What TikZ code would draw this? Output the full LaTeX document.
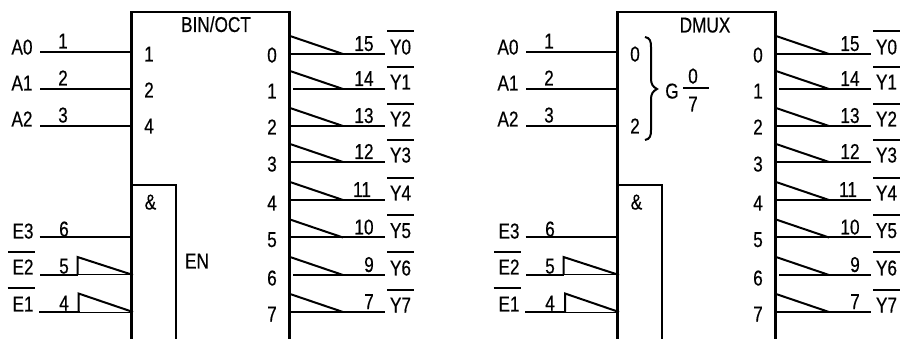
\documentclass[tikz,border=0pt]{standalone}
\usepackage{fontspec}
\setmainfont[FakeStretch=0.8,FakeBold=0.4]{Liberation Sans}
\tikzset{
  x=1pt,y=-1pt,
  wire/.style={line width=2pt,line cap=butt},
  thinwire/.style={line width=1pt},
  boxline/.style={line width=2.2pt},
  lab/.style={inner sep=0pt,font=\fontsize{21.5}{23}\selectfont,text height=15pt,text depth=0pt,anchor=center},
}
% #1 prefix, #2 x offset, #3 tri1 x, #4 tri2 x
\newcommand{\chipdraw}[4]{
  \begin{scope}[shift={(#2,0)}]
  % outline
  \coordinate (#1bl) at (131.5,339);
  \coordinate (#1tl) at (131.5,12);
  \coordinate (#1tr) at (289.5,12);
  \coordinate (#1br) at (289.5,339);
  \coordinate (#1al) at (131.5,185);
  \coordinate (#1ar) at (176,185);
  \coordinate (#1ab) at (176,339);
  \draw[boxline] (#1bl) -- (#1tl) -- (#1tr) -- (#1br);
  \draw[boxline] (#1al) -- (#1ar) -- (#1ab);
  % address inputs
  \foreach \n/\yy in {a/52,b/89,c/126}{
    \coordinate (#1i\n) at (40,\yy);
    \coordinate (#1j\n) at (131.5,\yy);
    \draw[wire] (#1i\n) -- (#1j\n);
  }
  % enables
  \coordinate (#1ie) at (39.5,237); \coordinate (#1je) at (131.5,237);
  \draw[wire] (#1ie) -- (#1je);
  \coordinate (#1if) at (40,275); \coordinate (#1tf) at (#3,275);
  \coordinate (#1uf) at (#3,257); \coordinate (#1jf) at (133,275);
  \draw[wire] (#1if) -- (#1tf);
  \draw[thinwire] (#1tf) -- (#1jf);
  \draw[wire,line join=miter] (#1tf) -- (#1uf) -- (#1jf);
  \coordinate (#1ig) at (39,312); \coordinate (#1tg) at (#4,312);
  \coordinate (#1ug) at (#4,293.5); \coordinate (#1jg) at (133,312);
  \draw[wire] (#1ig) -- ([xshift=1pt]#1tg);
  \draw[thinwire] (#1tg) -- (#1jg);
  \draw[wire,line join=miter] (#1tg) -- (#1ug) -- (#1jg);
  % outputs
  \foreach \n/\yy/\ys/\xs/\num/\nx/\pin/\py/\by in {
    0/54/36/290/15/364/0/55/31,
    1/89/71/293/14/364/1/91/67,
    2/126/108/290/13/364/2/127/104,
    3/162/144/290/12/364/3/164/140,
    4/200/182/290/11/362/4/203/178,
    5/237.5/219.5/290/10/364/5/239.5/215,
    6/275/257/293/9/369/6/278/252.5,
    7/312/294/290/7/369/7/314/290}{
    \coordinate (#1os\n) at (\xs,\yy);
    \coordinate (#1om\n) at (343,\yy);
    \coordinate (#1oe\n) at (385,\yy);
    \coordinate (#1ot\n) at (290,\ys);
    \draw[wire] (#1os\n) -- (#1oe\n);
    \draw[wire] (#1ot\n) -- (#1om\n);
    \node[lab] (#1num\n) at (\nx,\yy-10.5) {\num};
    \node[lab] (#1y\n) at (400.5,\yy-7) {Y\n};
    \coordinate (#1bl\n) at (387,\by);
    \coordinate (#1br\n) at (414,\by);
    \draw[wire] (#1bl\n) -- (#1br\n);
    \node[lab] (#1pin\n) at (272,\py) {\pin};
  }
  \node[lab] (#1and) at (150.5,202) {\&};
  % pin numbers at inputs
  \node[lab] (#1n1) at (63,41) {1};
  \node[lab] (#1n2) at (63,78) {2};
  \node[lab] (#1n3) at (63,115) {3};
  \node[lab] (#1n6) at (64,229) {6};
  \node[lab] (#1n5) at (64,266) {5};
  \node[lab] (#1n4) at (64,303) {4};
  % signal names
  \node[lab] (#1A0) at (22,47) {A0};
  \node[lab] (#1A1) at (22,83) {A1};
  \node[lab] (#1A2) at (22,119) {A2};
  \node[lab] (#1E3) at (23,231) {E3};
  \node[lab] (#1E2) at (23,267) {E2};
  \node[lab] (#1E1) at (23,304) {E1};
  \coordinate (#1ebl) at (8,252); \coordinate (#1ebr) at (34.5,252);
  \coordinate (#1fbl) at (7.5,288.5); \coordinate (#1fbr) at (34.5,288.5);
  \draw[wire] (#1ebl) -- (#1ebr);
  \draw[wire] (#1fbl) -- (#1fbr);
  \end{scope}
}
\begin{document}
\begin{tikzpicture}
\useasboundingbox (0,0) rectangle (900,339);
\chipdraw{l}{0}{77.5}{78.5}
\chipdraw{r}{486}{77.5}{79}
% left chip
\node[lab] (ltitle) at (216,24.5) {BIN/OCT};
\node[lab] (lp1) at (149,54) {1};
\node[lab] (lp2) at (149,90) {2};
\node[lab] (lp4) at (149,126) {4};
\node[lab] (len) at (197,261) {EN};
% right chip
\node[lab] (rtitle) at (705,25) {DMUX};
\node[lab] (rp0) at (635,54) {0};
\node[lab] (rp2) at (635,126) {2};
\coordinate (rba) at (645,37);
\coordinate (rbt) at (657,89);
\coordinate (rbb) at (645,140);
\draw[wire] (rba) .. controls (650,38) and (651,41) .. (651,47) -- (651,79)
   .. controls (651,84) and (653,87) .. (rbt)
   .. controls (653,91) and (651,94) .. (651,99) -- (651,130)
   .. controls (651,136) and (650,139) .. (rbb);
\node[lab] (rg) at (672,91) {G};
\coordinate (rfa) at (683,88.5);
\coordinate (rfb) at (709,88.5);
\draw[wire] (rfa) -- (rfb);
\node[lab] (rf0) at (693,76) {0};
\node[lab] (rf7) at (693,104) {7};
\end{tikzpicture}
\end{document}
